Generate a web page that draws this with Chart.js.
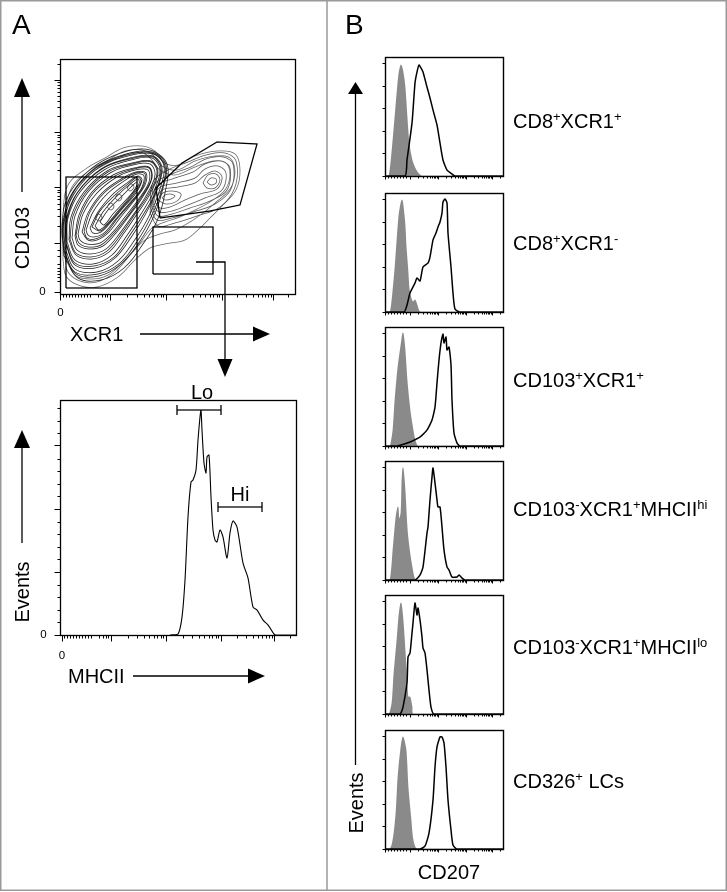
<!DOCTYPE html>
<html><head><meta charset="utf-8">
<script src="https://cdn.jsdelivr.net/npm/chart.js@4.4.0/dist/chart.umd.min.js"></script>
<style>
html,body{margin:0;padding:0;background:#fff;}
#fig{position:relative;width:727px;height:892px;overflow:hidden;font-family:"Liberation Sans",Arial,Helvetica,sans-serif;color:#000;}
canvas{position:absolute;}
.t{position:absolute;white-space:nowrap;line-height:1;font-size:20px;}
.c{transform:translate(-50%,-50%);}
.l{transform:translate(0,-50%);}
.v{transform:translate(-50%,-50%) rotate(-90deg);}
.z{font-size:11.5px;}
.s{font-size:13px;vertical-align:7px;line-height:1;}
svg{position:absolute;left:0;top:0;}
</style></head>
<body>
<div id="fig">
<canvas id="contour" style="left:40px;top:50px" width="265" height="255"></canvas>
<canvas id="mhc" style="left:40px;top:390px" width="265" height="255"></canvas>
<canvas id="b0" width="135" height="129"></canvas>
<canvas id="b1" width="135" height="129"></canvas>
<canvas id="b2" width="135" height="129"></canvas>
<canvas id="b3" width="135" height="129"></canvas>
<canvas id="b4" width="135" height="129"></canvas>
<canvas id="b5" width="135" height="129"></canvas>
<svg width="727" height="892" viewBox="0 0 727 892">
  <rect x="0.75" y="0.75" width="725.5" height="889.5" fill="none" stroke="#9a9a9a" stroke-width="1.5"/>
  <line x1="327" y1="0" x2="327" y2="891" stroke="#9a9a9a" stroke-width="1.5"/>
  <line x1="22" y1="192" x2="22" y2="95" stroke="#000" stroke-width="1.3"/>
  <polygon points="22,78 14,97 30,97" fill="#000"/>
  <line x1="140" y1="334" x2="255" y2="334" stroke="#000" stroke-width="1.3"/>
  <polygon points="270,334 253,326.5 253,341.5" fill="#000"/>
  <polyline points="196,262 225,262 225,361" fill="none" stroke="#000" stroke-width="1.3"/>
  <polygon points="225,377 217.5,359 232.5,359" fill="#000"/>
  <line x1="22" y1="543" x2="22" y2="446" stroke="#000" stroke-width="1.3"/>
  <polygon points="22,430 14,448 30,448" fill="#000"/>
  <line x1="133" y1="676" x2="250" y2="676" stroke="#000" stroke-width="1.3"/>
  <polygon points="265,676 248,668.5 248,683.5" fill="#000"/>
  <line x1="355.5" y1="765" x2="355.5" y2="92" stroke="#000" stroke-width="1.3"/>
  <polygon points="355.5,82 348,94 363,94" fill="#000"/>
</svg>
<div class="t l" style="left:12px;top:25px;font-size:28px">A</div>
<div class="t l" style="left:345px;top:25px;font-size:28px">B</div>
<div class="t v" style="left:22px;top:238px">CD103</div>
<div class="t l" style="left:70px;top:334px">XCR1</div>
<div class="t c z" style="left:42.5px;top:292px">0</div>
<div class="t c z" style="left:60.5px;top:313px">0</div>
<div class="t v" style="left:22px;top:592px">Events</div>
<div class="t l" style="left:68px;top:676px">MHCII</div>
<div class="t c z" style="left:43.5px;top:635px">0</div>
<div class="t c z" style="left:62px;top:656px">0</div>
<div class="t c" style="left:202px;top:392px">Lo</div>
<div class="t c" style="left:240px;top:494px">Hi</div>
<div class="t v" style="left:355.5px;top:803px">Events</div>
<div class="t c" style="left:449px;top:872px">CD207</div>
<div id="blabels"></div>
</div>
<script>
// ---------------- DATA ----------------
// Panel A top: CD103 vs XCR1 contour lines (arbitrary channel units)
const coreIslands = [
  [[35,76],[38,80],[42,77],[39,73]],
  [[47,87],[50,91],[54,88],[51,84]],
  [[55,96],[58,100],[62,97],[59,93]],
  [[67,106],[71,110],[74,107],[70,103]]
];
const leftPopulationContours = [
  [[40,72],[48,84],[60,96],[71,107],[77,112],[75,105],[65,93],[53,80],[44,69]],
  [[35,68],[43,82],[56,97],[69,109],[78,115],[79,110],[70,97],[58,83],[47,70],[39,64]],
  [[32,67],[40,83],[54,98],[68,110],[78,117],[81,112],[73,99],[61,85],[49,71],[40,63]],
  [[30,66],[38,82],[52,99],[67,111],[78,118],[82,114],[76,101],[63,86],[51,72],[41,62],[33,61]],
  [[26,64],[33,82],[47,100],[64,113],[77,120],[84,118],[81,105],[68,89],[55,74],[44,61],[34,57],[28,59]],
  [[24,63],[30,82],[44,101],[62,114],[76,121],[85,120],[83,107],[70,90],[57,75],[46,61],[35,55],[27,56]],
  [[22,62],[28,81],[42,101],[61,115],[76,122],[86,121],[85,109],[73,92],[60,76],[48,61],[37,54],[28,54]],
  [[18,60],[23,80],[37,101],[57,117],[75,124],[88,124],[89,112],[78,94],[65,77],[52,61],[40,51],[27,50],[20,54]],
  [[16,59],[21,80],[34,102],[55,118],[74,125],[89,126],[91,114],[80,95],[67,77],[54,61],[41,49],[28,47],[19,51]],
  [[15,58],[19,79],[32,102],[53,119],[74,126],[89,127],[92,116],[82,96],[69,78],[56,61],[43,48],[29,45],[18,49]],
  [[12,56],[15,78],[28,102],[50,121],[73,129],[90,130],[95,119],[86,98],[73,79],[60,61],[46,45],[30,40],[17,44]],
  [[10,55],[13,78],[26,102],[48,122],[72,130],[91,132],[97,121],[88,99],[75,80],[62,61],[47,43],[31,37],[16,41]],
  [[9,54],[11,77],[24,102],[47,123],[72,131],[91,133],[98,122],[90,100],[77,80],[64,61],[49,42],[32,35],[16,39]],
  [[7,52],[8,76],[20,102],[44,124],[71,134],[92,136],[100,124],[93,101],[81,80],[68,60],[52,39],[33,30],[15,34]],
  [[6,51],[7,75],[18,102],[42,125],[70,135],[93,137],[101,125],[95,101],[83,79],[70,59],[54,37],[34,28],[15,31]],
  [[6,49],[6,74],[17,101],[41,125],[70,136],[93,138],[102,126],[96,102],[85,79],[72,58],[55,36],[35,26],[15,29]],
  [[5,46],[4,72],[14,100],[38,126],[68,138],[93,140],[104,128],[99,102],[89,78],[76,56],[58,33],[37,22],[15,25]],
  [[4,44],[3,71],[12,100],[36,126],[67,139],[92,141],[105,128],[101,102],[91,77],[78,54],[60,31],[38,20],[15,22]],
  [[4,42],[3,70],[11,99],[35,126],[66,140],[92,142],[106,129],[102,102],[93,76],[80,53],[61,30],[39,18],[16,20]],
  [[4,38],[2,68],[8,98],[32,126],[64,142],[90,144],[107,130],[105,101],[97,73],[83,50],[64,26],[41,14],[18,16]]
];
const rightPopulationContours = [
  [[102,96],[105,99],[110,100],[115,98],[111,95],[105,94]],
  [[147,112],[151,116],[156,115],[156,111],[151,109]],
  [[98,94],[103,101],[112,103],[121,100],[117,93],[106,90]],
  [[143,111],[148,119],[156,120],[160,114],[155,106],[147,106]],
  [[95,92],[102,104],[118,107],[135,111],[145,119],[155,123],[162,117],[157,105],[140,100],[125,94],[110,87],[100,86]],
  [[93,90],[99,106],[117,111],[135,116],[145,125],[158,128],[166,121],[162,104],[145,96],[128,89],[112,83],[99,82]],
  [[92,88],[97,108],[115,116],[133,122],[145,130],[161,133],[170,126],[167,104],[150,93],[130,86],[112,80],[98,78]],
  [[91,85],[95,110],[112,120],[131,127],[146,135],[163,137],[173,130],[171,105],[155,90],[133,82],[112,76],[97,74]],
  [[90,81],[93,112],[108,124],[128,132],[146,139],[165,141],[176,133],[175,107],[160,87],[137,78],[115,71],[98,68]]
];
const outerContours = [
  [[3,34],[3,79],[8,109],[27,126],[45,136],[63,146],[82,148],[95,143],[105,131],[118,129],[135,138],[157,143],[175,140],[180,124],[176,104],[162,88],[150,76],[140,66],[125,54],[105,50],[90,46],[75,34],[58,17],[37,7],[18,9],[6,18]],
  [[5,36],[5,79],[12,107],[30,124],[48,134],[65,143],[82,144],[93,139],[102,128],[117,124],[135,133],[155,138],[170,136],[175,122],[170,105],[155,91],[143,81],[130,72],[115,64],[100,60],[85,54],[72,41],[55,22],[37,12],[20,13],[8,22]],
  [[6,39],[6,79],[15,104],[33,122],[50,132],[67,140],[83,141],[92,134],[100,124],[115,119],[135,127],[153,133],[166,131],[170,119],[165,104],[150,92],[135,84],[120,77],[105,72],[92,66],[80,51],[65,34],[48,19],[32,15],[15,19]]
];
const gateXCR1neg = [[6,6],[77,6],[77,117],[6,117],[6,6]];
const gateCD103posXCR1pos = [[100,76],[96,106],[122,131],[157,152],[197,150],[180,89],[150,83],[100,76]];
const gateCD103negXCR1pos = [[93,20],[153,20],[153,67],[93,67],[93,20]];
const contourXMajor = [0,50,106,162,213];
const contourYMajor = [2,51,107,162,214];

// Panel A bottom: MHCII histogram of the CD103-XCR1+ gate
const mhciiHistogram = [[110,0],[118,1],[122,18],[125,55],[128,118],[131,153],[133,155],[136,165],[138,195],[140,218],[141,225],[142,205],[144,172],[146,162],[147,178],[149,180],[151,138],[153,105],[155,95],[157,93],[160,105],[163,98],[167,77],[170,102],[173,114],[177,108],[183,72],[188,57],[193,28],[197,25],[203,15],[208,10],[214,1],[216,0],[236,0]];
const loBracket = [117,161,225];
const hiBracket = [158,202,128];
const mhcXMajor = [2,51,106,161,214];
const mhcYMajor = [0,63,126,190];

// Panel B: CD207 histograms (isotype = grey fill, CD207 = black line)
const populations = [
  ['CD8','+','XCR1','+'],
  ['CD8','+','XCR1','-'],
  ['CD103','+','XCR1','+'],
  ['CD103','-','XCR1','+','MHCII','hi'],
  ['CD103','-','XCR1','+','MHCII','lo'],
  ['CD326','+',' LCs','']
];
const labelY = [120,242,379,508,646,780];
const boxTop = [57,193,327,461,595,730];
const isotypeCurves = [
  [[0,0],[4,0],[8,36],[12,83],[14,103],[16,111],[18,104],[20,89],[22,59],[24,33],[27,16],[30,8],[33,3],[37,0],[118,0]],
  [[0,0],[5,0],[7,12],[8,22],[10,44],[12,72],[14,97],[16,109],[17,112],[18,107],[20,87],[21,67],[23,40],[24,24],[26,14],[28,10],[30,12],[32,7],[34,1],[36,0],[118,0]],
  [[0,0],[5,0],[6,3],[8,16],[10,46],[13,79],[16,101],[18,113],[20,96],[22,66],[25,36],[28,16],[30,6],[33,0],[118,0]],
  [[0,0],[5,0],[8,30],[11,63],[13,73],[14,60],[16,67],[17,100],[18,112],[20,90],[22,53],[24,33],[27,13],[29,3],[31,0],[118,0]],
  [[0,0],[4,0],[7,11],[9,41],[12,74],[14,99],[16,111],[18,94],[20,64],[22,31],[23,17],[25,17],[27,7],[28,0],[118,0]],
  [[0,0],[5,0],[8,9],[11,36],[13,72],[16,102],[18,112],[21,99],[23,62],[26,29],[28,9],[32,0],[118,0]]
];
const cd207Curves = [
  [[0,0],[20,0],[22,16],[27,53],[30,93],[32,104],[34,111],[36,108],[38,104],[42,89],[45,78],[48,66],[52,51],[55,33],[58,16],[62,6],[67,2],[70,0],[118,0]],
  [[0,0],[19,0],[22,7],[25,19],[30,29],[32,34],[35,31],[38,45],[43,49],[45,55],[48,72],[51,79],[53,85],[55,90],[57,99],[58,110],[60,113],[62,109],[63,79],[66,45],[68,19],[70,3],[75,0],[118,0]],
  [[0,0],[12,0],[25,4],[35,9],[42,16],[47,26],[50,39],[52,63],[54,86],[56,103],[58,112],[59,103],[61,109],[62,96],[64,99],[66,81],[67,46],[69,13],[72,3],[75,0],[118,0]],
  [[0,0],[30,0],[35,5],[38,13],[42,47],[43,53],[45,80],[47,103],[48,112],[50,97],[52,80],[53,73],[55,73],[57,53],[59,30],[62,13],[64,10],[67,3],[72,3],[74,5],[77,2],[80,0],[118,0]],
  [[0,0],[15,0],[18,7],[22,31],[23,57],[25,61],[27,81],[28,91],[30,111],[32,99],[33,106],[35,94],[37,77],[38,66],[40,61],[42,44],[44,24],[46,7],[49,0],[118,0]],
  [[0,0],[35,0],[40,3],[44,16],[48,49],[50,82],[52,102],[55,112],[57,112],[59,106],[61,82],[63,49],[66,19],[68,4],[72,0],[118,0]]
];
const bXMajor = [0,25,53,81,107];
const bYMajor = [0,22.6,45.2,67.8,90.4,113];

// ---------------- HELPERS ----------------
function logMinors(majors, max){
  const out=[];
  for(let i=2;i<majors.length;i++){
    const a=majors[i-1], b=majors[i];
    for(let k=2;k<=9;k++) out.push(a+(b-a)*Math.log10(k));
  }
  const last=majors[majors.length-1], step=majors[majors.length-1]-majors[majors.length-2];
  for(let k=2;k<=9;k++){const v=last+step*Math.log10(k); if(v<=max) out.push(v);}
  return out;
}
const pts = a => a.map(([x,y])=>({x,y}));
const closed = a => pts(a.concat([a[0]]));

const frameTicks = {
  id:'frameTicks',
  afterDatasetsDraw(chart, args, o){
    const {ctx, chartArea:a, scales:{x,y}} = chart;
    ctx.save();
    ctx.strokeStyle='#000';
    ctx.lineWidth=o.lw||1.3;
    ctx.strokeRect(Math.round(a.left)+0.5, Math.round(a.top)+0.5, Math.round(a.right-a.left), Math.round(a.bottom-a.top));
    ctx.lineWidth=1;
    const L=Math.round(a.left)+0.5, B=Math.round(a.bottom)+0.5;
    const drawX=(vals,len)=>{ctx.beginPath();vals.forEach(v=>{const p=Math.round(x.getPixelForValue(v))+0.5;ctx.moveTo(p,B);ctx.lineTo(p,B+len);});ctx.stroke();};
    const drawY=(vals,len)=>{ctx.beginPath();vals.forEach(v=>{const p=Math.round(y.getPixelForValue(v))+0.5;ctx.moveTo(L,p);ctx.lineTo(L-len,p);});ctx.stroke();};
    drawX(o.xMajor||[], o.majLen); drawX(o.xMinor||[], o.minLen);
    drawY(o.yMajor||[], o.majLen); drawY(o.yMinor||[], o.minLen);
    ctx.restore();
  }
};
function opts(pad, xr, yr, ft){
  return {responsive:false, animation:false, events:[], devicePixelRatio:2,
    layout:{padding:pad},
    plugins:{legend:{display:false}, tooltip:{enabled:false}, frameTicks:ft},
    scales:{x:{type:'linear',display:false,min:xr[0],max:xr[1]}, y:{type:'linear',display:false,min:yr[0],max:yr[1]}}};
}
function line(data, color, w, tension, extra){
  return Object.assign({data, showLine:true, borderColor:color, borderWidth:w, pointRadius:0, tension:tension, fill:false}, extra||{});
}

// ---------------- CONTOUR CHART ----------------
{
  const ds=[];
  ds.push(line(pts(gateXCR1neg),'#000',1.3,0));
  ds.push(line(pts(gateCD103posXCR1pos),'#000',1.3,0));
  ds.push(line(pts(gateCD103negXCR1pos),'#000',1.3,0));
  coreIslands.forEach(r=>ds.push(line(closed(r),'#444',0.7,0.4)));
  leftPopulationContours.forEach(r=>ds.push(line(closed(r),'#1a1a1a',0.75,0.35)));
  rightPopulationContours.forEach(r=>ds.push(line(closed(r),'#555',0.75,0.35)));
  outerContours.forEach(r=>ds.push(line(closed(r),'#666',0.75,0.35)));
  const xMinor=[3,6,9,12,15,18,21,24,27,30,38,42,45,47].concat(logMinors(contourXMajor,235));
  const yMinor=[13,17,20,23,26,30,38,44].concat(logMinors(contourYMajor,235));
  new Chart(document.getElementById('contour'),{type:'scatter',data:{datasets:ds},
    options:opts({left:20,top:9,right:10,bottom:11},[0,235],[0,235],
      {xMajor:contourXMajor,xMinor,yMajor:contourYMajor,yMinor,majLen:6,minLen:3}),
    plugins:[frameTicks]});
}

// ---------------- MHCII HISTOGRAM ----------------
{
  const ds=[
    line(pts(mhciiHistogram),'#000',1.1,0.25),
    line(pts([[loBracket[0],loBracket[2]],[loBracket[1],loBracket[2]]]),'#000',1.3,0),
    line(pts([[loBracket[0],loBracket[2]-5],[loBracket[0],loBracket[2]+5]]),'#000',1.3,0),
    line(pts([[loBracket[1],loBracket[2]-5],[loBracket[1],loBracket[2]+5]]),'#000',1.3,0),
    line(pts([[hiBracket[0],hiBracket[2]],[hiBracket[1],hiBracket[2]]]),'#000',1.3,0),
    line(pts([[hiBracket[0],hiBracket[2]-5],[hiBracket[0],hiBracket[2]+5]]),'#000',1.3,0),
    line(pts([[hiBracket[1],hiBracket[2]-5],[hiBracket[1],hiBracket[2]+5]]),'#000',1.3,0)
  ];
  const yMinor=[];
  for(let v=12.6; v<235; v+=12.6){ if(!mhcYMajor.some(m=>Math.abs(m-v)<2)) yMinor.push(v); }
  const xMinor=[4,7,10,13,16,19,22,25,28,31,39,43,46,48].concat(logMinors(mhcXMajor,236));
  new Chart(document.getElementById('mhc'),{type:'scatter',data:{datasets:ds},
    options:opts({left:20,top:10,right:9,bottom:10},[0,236],[0,235],
      {xMajor:mhcXMajor,xMinor,yMajor:mhcYMajor,yMinor,majLen:6,minLen:3}),
    plugins:[frameTicks]});
}

// ---------------- PANEL B HISTOGRAMS ----------------
const bl=document.getElementById('blabels');
populations.forEach((p,i)=>{
  const cv=document.getElementById('b'+i);
  cv.style.left='375px'; cv.style.top=(boxTop[i]-5)+'px';
  const ds=[
    line(pts(cd207Curves[i]),'#000',1.5,0.2),
    line(pts(isotypeCurves[i]),'#8a8a8a',0.8,0.25,{fill:'origin',backgroundColor:'#8a8a8a'})
  ];
  new Chart(cv,{type:'scatter',data:{datasets:ds},
    options:opts({left:10,top:5,right:7,bottom:5},[0,118],[0,119],
      {xMajor:bXMajor,xMinor:logMinors(bXMajor,118).concat([3,6,9,12,15,18,21]),yMajor:bYMajor,yMinor:[],majLen:3,minLen:2,lw:1.4}),
    plugins:[frameTicks]});
  const d=document.createElement('div');
  d.className='t l'; d.style.left='513px'; d.style.top=labelY[i]+'px';
  let h='';
  for(let k=0;k<p.length;k+=2){ h+=p[k]; if(p[k+1]) h+='<span class="s">'+p[k+1]+'</span>'; }
  d.innerHTML=h;
  bl.appendChild(d);
});
</script>
</body></html>
